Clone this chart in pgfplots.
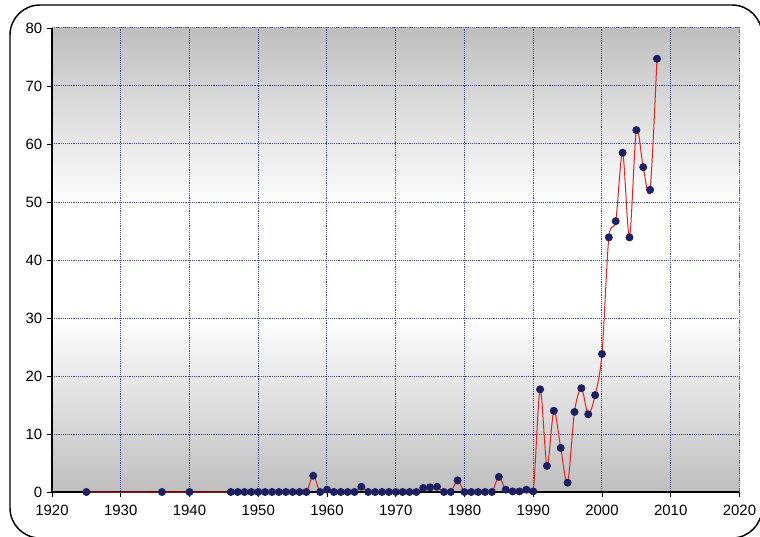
\documentclass[border=0pt]{standalone}
\usepackage{fontspec}
\setmainfont{Liberation Sans}
\usepackage{pgfplots}
\pgfplotsset{compat=1.18}
\definecolor{navy}{RGB}{28,32,98}
\definecolor{gridblue}{RGB}{60,78,170}
\definecolor{linered}{RGB}{232,32,32}
\definecolor{bggray}{RGB}{190,190,190}
\pgfdeclareverticalshading{plotbg}{100bp}{color(0bp)=(bggray); color(25bp)=(bggray); color(44bp)=(white); color(56bp)=(white); color(75bp)=(bggray); color(100bp)=(bggray)}
\begin{document}
\begin{tikzpicture}
\useasboundingbox (0,0) rectangle (570pt,402pt);
\draw[line width=1.1pt, rounded corners=22.5pt] (7.5pt,-1.5pt) rectangle (571.5pt,398.25pt);
\begin{axis}[
  at={(39pt,33pt)}, anchor=south west,
  scale only axis, width=515.6pt, height=348pt,
  xmin=1920, xmax=2020, ymin=0, ymax=80,
  xtick={1920,1930,...,2020}, ytick={0,10,...,80},
  axis lines=left, axis line style={-, line width=0.8pt, black},
  tick align=outside, major tick length=3.75pt,
  tick style={black, line width=0.6pt},
  grid=major,
  major grid style={gridblue, densely dotted, line width=0.75pt},
  /pgf/number format/1000 sep={},
  /pgf/number format/assume math mode=true,
  ticklabel style={font=\fontsize{11.2}{12}\selectfont},
  xticklabel style={yshift=-2.5pt},
  axis background/.style={shading=plotbg},
  clip mode=individual,
]
\addplot[linered, line width=0.75pt, smooth, mark=*, mark size=2.6pt, mark options={navy, fill=navy, solid}] coordinates {
(1925,0) (1936,0) (1940,0)
(1946,0) (1947,0) (1948,0) (1949,0) (1950,0) (1951,0) (1952,0) (1953,0) (1954,0) (1955,0) (1956,0) (1957,0)
(1958,2.8) (1959,0) (1960,0.4) (1961,0) (1962,0) (1963,0) (1964,0) (1965,0.9)
(1966,0) (1967,0) (1968,0) (1969,0) (1970,0) (1971,0) (1972,0) (1973,0)
(1974,0.7) (1975,0.8) (1976,0.9) (1977,0) (1978,0) (1979,2.0) (1980,0)
(1981,0) (1982,0) (1983,0) (1984,0) (1985,2.6) (1986,0.4) (1987,0.1) (1988,0.1) (1989,0.4) (1990,0.1)
(1991,17.7) (1992,4.5) (1993,14.0) (1994,7.6) (1995,1.6) (1996,13.8) (1997,17.9) (1998,13.4) (1999,16.7) (2000,23.8)
(2001,43.9) (2002,46.7) (2003,58.5) (2004,43.9) (2005,62.4) (2006,56.0) (2007,52.1) (2008,74.7)
};
\draw[gray, densely dotted, line width=0.75pt] (rel axis cs:0,1) -- (rel axis cs:1,1) -- (rel axis cs:1,0);
\end{axis}
\end{tikzpicture}
\end{document}
